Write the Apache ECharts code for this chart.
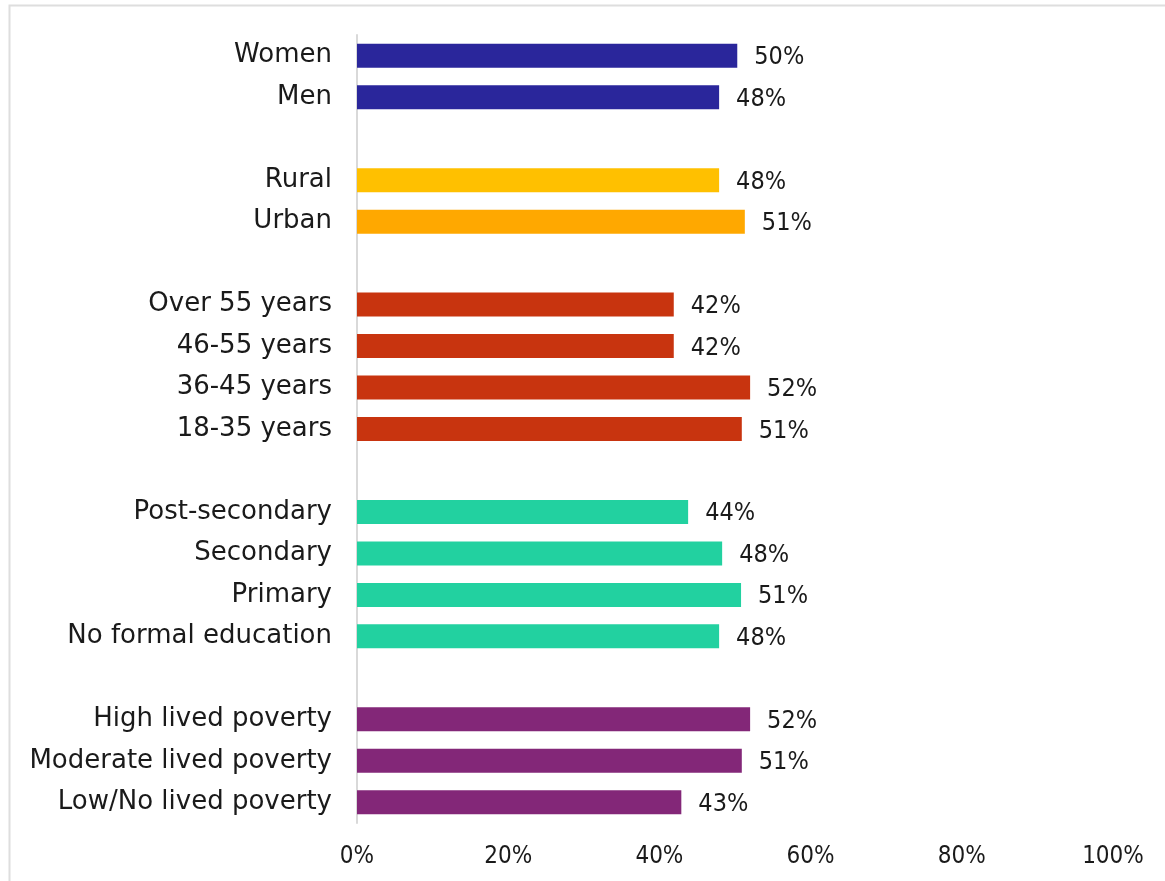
<!DOCTYPE html>
<html>
<head>
<meta charset="utf-8">
<script src="https://cdn.jsdelivr.net/npm/echarts@6/dist/echarts.min.js"></script>
<style>html,body{margin:0;padding:0;background:#fff}#c{width:1165px;height:881px}</style>
</head>
<body>
<div id="c"></div>
<script>
// Data groups (top to bottom)
const genderCats = ['Women', 'Men'];
const genderVals = [50.3, 47.9];
const areaCats = ['Rural', 'Urban'];
const areaVals = [47.9, 51.3];
const ageCats = ['Over 55 years', '46-55 years', '36-45 years', '18-35 years'];
const ageVals = [41.9, 41.9, 52.0, 50.9];
const eduCats = ['Post-secondary', 'Secondary', 'Primary', 'No formal education'];
const eduVals = [43.8, 48.3, 50.8, 47.9];
const povCats = ['High lived poverty', 'Moderate lived poverty', 'Low/No lived poverty'];
const povVals = [52.0, 50.9, 42.9];
const xTicks = [0, 20, 40, 60, 80, 100];

const groupColors = [
  ['#2A269B', '#2A269B'],
  ['#FFC000', '#FFA800'],
  ['#C8340F', '#C8340F', '#C8340F', '#C8340F'],
  ['#22D1A0', '#22D1A0', '#22D1A0', '#22D1A0'],
  ['#832778', '#832778', '#832778']
];
const groups = [
  [genderCats, genderVals],
  [areaCats, areaVals],
  [ageCats, ageVals],
  [eduCats, eduVals],
  [povCats, povVals]
];

const categories = [];
const seriesData = [];
groups.forEach((g, gi) => {
  if (gi > 0) {
    categories.push(' '.repeat(gi));
    seriesData.push(null);
  }
  g[0].forEach((c, i) => {
    categories.push(c);
    seriesData.push({ value: g[1][i], itemStyle: { color: groupColors[gi][i] } });
  });
});

const FONT = 'DejaVu Sans';
const NUMFONT = '"DejaVu Sans Condensed", "DejaVu Sans"';
const chart = echarts.init(document.getElementById('c'), null, { renderer: 'canvas' });
chart.setOption({
  animation: false,
  backgroundColor: '#fff',
  graphic: [{
    type: 'rect',
    shape: { x: 9.5, y: 5.5, width: 1300, height: 1000 },
    style: { fill: 'none', stroke: '#dedede', lineWidth: 2 },
    silent: true
  }],
  grid: { left: 357, right: 52, top: 35, bottom: 58 },
  xAxis: {
    type: 'value',
    min: xTicks[0],
    max: xTicks[xTicks.length - 1],
    interval: xTicks[1] - xTicks[0],
    axisLine: { show: false },
    axisTick: { show: false },
    splitLine: { show: false },
    axisLabel: {
      formatter: '{value}%',
      color: '#1a1a1a',
      fontFamily: NUMFONT,
      fontSize: 24,
      margin: 22
    }
  },
  yAxis: {
    type: 'category',
    inverse: true,
    data: categories,
    axisLine: { show: true, lineStyle: { color: '#d9d9d9', width: 2 } },
    axisTick: { show: false },
    axisLabel: {
      color: '#1a1a1a',
      fontFamily: FONT,
      fontSize: 26,
      margin: 25,
      padding: [6, 0, 0, 0]
    }
  },
  series: [{
    type: 'bar',
    data: seriesData,
    barWidth: 24,
    label: {
      show: true,
      position: 'right',
      distance: 17,
      offset: [0, 2],
      color: '#1a1a1a',
      fontFamily: NUMFONT,
      fontSize: 25,
      formatter: p => Math.round(p.value) + '%'
    }
  }]
});
</script>
</body>
</html>
